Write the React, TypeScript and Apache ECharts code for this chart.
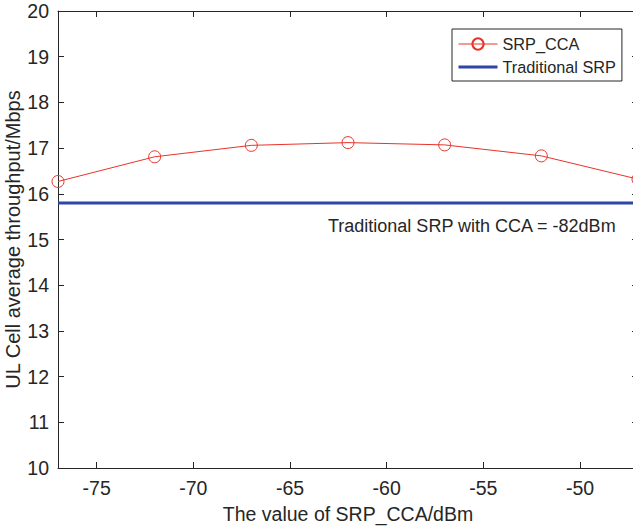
import React, { useEffect, useRef } from "react";
import * as echarts from "echarts";

const xValues = [-77, -72, -67, -62, -57, -52, -47];
const srpCca = [16.27, 16.81, 17.06, 17.12, 17.07, 16.83, 16.32];
const traditionalX = [-77, -47];
const traditionalY = [15.8, 15.8];
const xTicks = [-75, -70, -65, -60, -55, -50];
const seriesNames = ["SRP_CCA", "Traditional SRP"];
const annotation = "Traditional SRP with CCA = -82dBm";

const FONT = "Liberation Sans, Arial, Helvetica, sans-serif";
const AX = "#262626";
const RED = "#e8332a";
const BLUE = "#2f45a8";

export default function App() {
  const ref = useRef<HTMLDivElement>(null);
  useEffect(() => {
    if (!ref.current) return;
    const chart = echarts.init(ref.current, null, { renderer: "svg" });
    const common = {
      type: "value",
      axisLine: { show: true, lineStyle: { color: AX, width: 1 } },
      splitLine: { show: false },
    };
    const xTick = { show: true, inside: true, length: 6, lineStyle: { color: AX }, customValues: xTicks };
    const yTick = { show: true, inside: true, length: 6, lineStyle: { color: AX } };
    chart.setOption({
      animation: false,
      textStyle: { fontFamily: FONT },
      grid: { left: 58, top: 11, width: 580, height: 457, containLabel: false, outerBoundsMode: "none" },
      xAxis: [
        {
          ...common,
          min: -77,
          max: -47,
          position: "bottom",
          axisTick: xTick,
          axisLabel: {
            color: AX,
            fontSize: 19.5,
            fontFamily: FONT,
            margin: 10,
            customValues: xTicks,
          },
          name: "The value of SRP_CCA/dBm",
          nameLocation: "middle",
          nameGap: 36,
          nameMoveOverlap: false,
          nameTextStyle: { color: AX, fontSize: 19.5, fontFamily: FONT },
        },
        {
          ...common,
          min: -77,
          max: -47,
          position: "top",
          axisTick: xTick,
          axisLabel: { show: false },
        },
      ],
      yAxis: [
        {
          ...common,
          min: 10,
          max: 20,
          interval: 1,
          position: "left",
          axisTick: yTick,
          axisLabel: { color: AX, fontSize: 19.5, fontFamily: FONT, margin: 9 },
          name: "UL Cell average throughput/Mbps",
          nameLocation: "middle",
          nameGap: 35,
          nameMoveOverlap: false,
          nameTextStyle: { color: AX, fontSize: 20, fontFamily: FONT },
        },
        {
          ...common,
          min: 10,
          max: 20,
          interval: 1,
          position: "right",
          axisTick: yTick,
          axisLabel: { show: false },
        },
      ],
      legend: {
        orient: "vertical",
        left: 452,
        top: 29,
        padding: [7, 6, 6, 5],
        itemGap: 7,
        itemWidth: 39,
        itemHeight: 14,
        backgroundColor: "#ffffff",
        borderColor: AX,
        borderWidth: 1,
        borderRadius: 0,
        textStyle: { color: AX, fontSize: 16.3, fontFamily: FONT },
        data: [
          { name: seriesNames[0], lineStyle: { color: RED, width: 1 } },
          { name: seriesNames[1], itemStyle: { opacity: 0 }, lineStyle: { color: BLUE, width: 3 } },
        ],
      },
      graphic: [
        {
          type: "text",
          left: 328,
          top: 217,
          style: { text: annotation, fill: AX, font: `18px ${FONT}` },
        },
      ],
      series: [
        {
          name: seriesNames[1],
          type: "line",
          data: traditionalX.map((x, i) => [x, traditionalY[i]]),
          showSymbol: false,
          symbol: "none",
          lineStyle: { color: BLUE, width: 3 },
          itemStyle: { color: BLUE },
          z: 2,
        },
        {
          name: seriesNames[0],
          type: "line",
          data: xValues.map((x, i) => [x, srpCca[i]]),
          symbol: "circle",
          symbolSize: 12,
          lineStyle: { color: RED, width: 1 },
          itemStyle: { color: "rgba(255,255,255,0)", borderColor: RED, borderWidth: 1 },
          clip: false,
          z: 3,
        },
      ],
    });
    return () => chart.dispose();
  }, []);
  return <div ref={ref} style={{ width: 633, height: 527, position: "absolute", left: 0, top: 0, background: "#fff" }} />;
}
